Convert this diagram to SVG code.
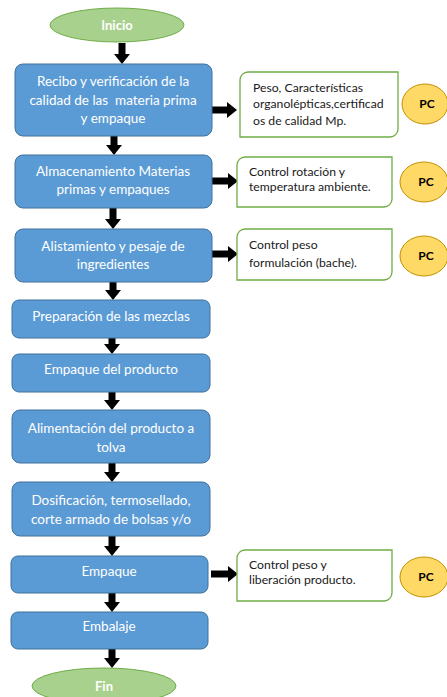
<svg xmlns="http://www.w3.org/2000/svg" width="447" height="697" viewBox="0 0 447 697">
<style>
.box{fill:#5B9BD5;stroke:#41719C;stroke-width:1}
.term{fill:#A9D18E;stroke:#70AD47;stroke-width:1}
.side{fill:#FFFFFF;stroke:#70AD47;stroke-width:1.3}
.pc{fill:#FFD966;stroke:#BF9000;stroke-width:1}
.bt{font-family:Lato,"Open Sans","Liberation Sans",sans-serif;font-size:13.5px;fill:#FFFFFF;text-anchor:middle}
.tt{font-family:Lato,"Open Sans","Liberation Sans",sans-serif;font-size:13px;font-weight:bold;fill:#FFFFFF;text-anchor:middle}
.st{font-family:Lato,"Open Sans","Liberation Sans",sans-serif;font-size:12.2px;fill:#1a1a1a}
.pt{font-family:Lato,"Open Sans","Liberation Sans",sans-serif;font-size:12px;font-weight:bold;fill:#000000;text-anchor:middle}
.arr{stroke:#000000;stroke-width:7;fill:none;marker-end:url(#ah)}
</style>
<defs>
<marker id="ah" markerUnits="userSpaceOnUse" markerWidth="10" markerHeight="16" refX="0" refY="8" orient="auto" viewBox="0 0 10 16">
<path d="M0,0 L10,8 L0,16 Z" fill="#000000"/>
</marker>
</defs>
<rect width="447" height="697" fill="#FFFFFF"/>
<g id="connectors">
<line class="arr" x1="122" y1="43" x2="122" y2="54"/>
<line class="arr" x1="114" y1="136" x2="114" y2="145"/>
<line class="arr" x1="113" y1="208" x2="113" y2="219"/>
<line class="arr" x1="113" y1="282" x2="113" y2="290"/>
<line class="arr" x1="112" y1="338" x2="112" y2="344"/>
<line class="arr" x1="112" y1="392" x2="112" y2="400"/>
<line class="arr" x1="112" y1="463" x2="112" y2="472"/>
<line class="arr" x1="112" y1="536" x2="112" y2="546"/>
<line class="arr" x1="112" y1="593" x2="112" y2="602"/>
<line class="arr" x1="112" y1="649" x2="112" y2="658"/>
<line class="arr" x1="210" y1="110" x2="227" y2="110"/>
<line class="arr" x1="212" y1="181" x2="228" y2="181"/>
<line class="arr" x1="212" y1="254" x2="228" y2="254"/>
<line class="arr" x1="211" y1="574" x2="228" y2="574"/>
</g>
<g id="inicio">
<ellipse class="term" cx="117" cy="25" rx="67" ry="17"/>
<text class="tt" x="117" y="30">Inicio</text>
</g>
<g id="n1">
<rect class="box" x="15" y="64" width="197" height="72" rx="8"/>
<text class="bt" x="113" y="86">Recibo y verificación de la</text>
<text class="bt" x="113" y="105" xml:space="preserve">calidad de las  materia prima</text>
<text class="bt" x="113" y="123">y empaque</text>
</g>
<g id="n2">
<rect class="box" x="15" y="155" width="197" height="53" rx="8"/>
<text class="bt" x="113" y="176">Almacenamiento Materias</text>
<text class="bt" x="113" y="194">primas y empaques</text>
</g>
<g id="n3">
<rect class="box" x="15" y="229" width="197" height="53" rx="8"/>
<text class="bt" x="113" y="251">Alistamiento y pesaje de</text>
<text class="bt" x="113" y="269">ingredientes</text>
</g>
<g id="n4">
<rect class="box" x="12" y="300" width="198" height="38" rx="7"/>
<text class="bt" x="111" y="321">Preparación de las mezclas</text>
</g>
<g id="n5">
<rect class="box" x="12" y="354" width="198" height="38" rx="7"/>
<text class="bt" x="111" y="374">Empaque del producto</text>
</g>
<g id="n6">
<rect class="box" x="12" y="410" width="198" height="53" rx="8"/>
<text class="bt" x="111" y="433">Alimentación del producto a</text>
<text class="bt" x="111" y="452">tolva</text>
</g>
<g id="n7">
<rect class="box" x="12" y="482" width="198" height="54" rx="8"/>
<text class="bt" x="111" y="505">Dosificación, termosellado,</text>
<text class="bt" x="111" y="524">corte armado de bolsas y/o</text>
</g>
<g id="n8">
<rect class="box" x="11" y="556" width="197" height="37" rx="7"/>
<text class="bt" x="109" y="576">Empaque</text>
</g>
<g id="n9">
<rect class="box" x="11" y="612" width="197" height="37" rx="7"/>
<text class="bt" x="109" y="631">Embalaje</text>
</g>
<g id="fin">
<ellipse class="term" cx="104" cy="686" rx="72" ry="18"/>
<text class="tt" x="104" y="691">Fin</text>
</g>
<g id="s1">
<path class="side" d="M248,72 H398 V129 A8,8 0 0 1 390,137 H240 V80 A8,8 0 0 1 248,72 Z"/>
<text class="st" x="253" y="92">Peso, Características</text>
<text class="st" x="253" y="108">organolépticas,certificad</text>
<text class="st" x="253" y="125">os de calidad Mp.</text>
</g>
<g id="s2">
<path class="side" d="M245,157 H392 V199 A8,8 0 0 1 384,207 H237 V165 A8,8 0 0 1 245,157 Z"/>
<text class="st" x="249" y="176">Control rotación y</text>
<text class="st" x="249" y="191">temperatura ambiente.</text>
</g>
<g id="s3">
<path class="side" d="M245,229 H392 V272 A8,8 0 0 1 384,280 H237 V237 A8,8 0 0 1 245,229 Z"/>
<text class="st" x="249" y="249">Control peso</text>
<text class="st" x="249" y="267">formulación (bache).</text>
</g>
<g id="s4">
<path class="side" d="M245,550 H392 V593 A8,8 0 0 1 384,601 H237 V558 A8,8 0 0 1 245,550 Z"/>
<text class="st" x="249" y="569">Control peso y</text>
<text class="st" x="249" y="584">liberación producto.</text>
</g>
<g id="pc1">
<ellipse class="pc" cx="425" cy="104" rx="23" ry="20"/>
<text class="pt" x="427" y="108">PC</text>
</g>
<g id="pc2">
<ellipse class="pc" cx="424" cy="182" rx="24" ry="20"/>
<text class="pt" x="426" y="186">PC</text>
</g>
<g id="pc3">
<ellipse class="pc" cx="424" cy="256" rx="24" ry="20"/>
<text class="pt" x="426" y="260">PC</text>
</g>
<g id="pc4">
<ellipse class="pc" cx="424" cy="577" rx="24" ry="20"/>
<text class="pt" x="426" y="581">PC</text>
</g>
</svg>
